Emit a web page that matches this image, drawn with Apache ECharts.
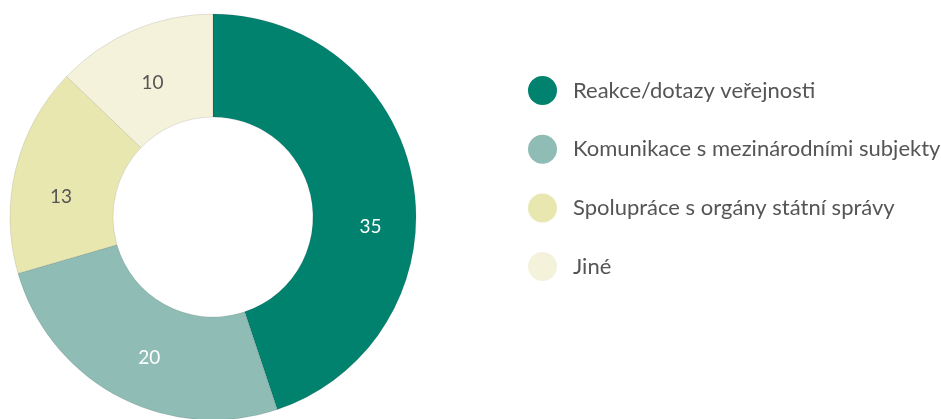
<!DOCTYPE html>
<html>
<head>
<meta charset="utf-8">
<script src="https://cdn.jsdelivr.net/npm/echarts@6/dist/echarts.min.js"></script>
<style>
  html, body { margin: 0; padding: 0; background: #fff; }
  #chart { width: 941px; height: 419px; }
</style>
</head>
<body>
<div id="chart"></div>
<script>
var categories = [
  "Reakce/dotazy veřejnosti",
  "Komunikace s mezinárodními subjekty",
  "Spolupráce s orgány státní správy",
  "Jiné"
];
var values = [35, 20, 13, 10];

var colors = ["#00826f", "#8fbcb4", "#e8e7b0", "#f4f2db"];
var labelColors = ["#ffffff", "#ffffff", "#555555", "#555555"];
// label nudges to sit where the original puts them
var labelOffsets = [[5, 35], [8, 4], [-2, 17], [0, 8]];

var font = "Lato, 'Noto Sans', sans-serif";

var myChart = echarts.init(document.getElementById("chart"));

var data = categories.map(function (name, i) {
  return {
    name: name,
    value: values[i],
    itemStyle: { color: colors[i] },
    label: { color: labelColors[i], offset: labelOffsets[i] }
  };
});

var option = {
  animation: false,
  legend: {
    orient: "vertical",
    left: 523,
    top: 71,
    itemWidth: 29,
    itemHeight: 29,
    itemGap: 29.7,
    icon: "circle",
    itemStyle: { borderWidth: 0 },
    textStyle: {
      color: "#555555",
      fontSize: 22,
      fontFamily: font,
      padding: [0, 0, 0, 11]
    },
    data: categories
  },
  series: [
    {
      type: "pie",
      center: [213, 217],
      radius: [100, 203],
      startAngle: 90,
      clockwise: true,
      avoidLabelOverlap: false,
      itemStyle: {
        borderColor: "rgba(0,0,0,0.2)",
        borderWidth: 0.5
      },
      label: {
        show: true,
        position: "inside",
        formatter: "{c}",
        fontSize: 19,
        fontFamily: font
      },
      labelLine: { show: false },
      emphasis: { disabled: true },
      data: data
    }
  ]
};

myChart.setOption(option);
</script>
</body>
</html>
